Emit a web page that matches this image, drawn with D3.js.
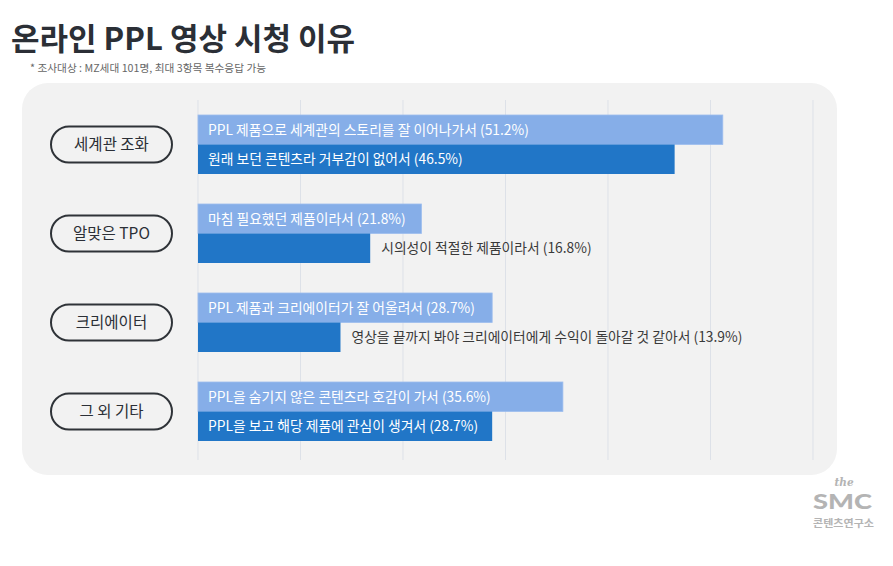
<!DOCTYPE html>
<html><head><meta charset="utf-8">
<script src="https://cdn.jsdelivr.net/npm/d3@7"></script>
<style>
html,body{margin:0;padding:0;background:#fff;}
svg{display:block;font-family:"Noto Sans CJK KR","Noto Sans",sans-serif;}
</style></head>
<body>
<svg id="c" width="893" height="566"></svg>
<script>
const categories = ["세계관 조화", "알맞은 TPO", "크리에이터", "그 외 기타"];
const firstLabels = [
  "PPL 제품으로 세계관의 스토리를 잘 이어나가서",
  "마침 필요했던 제품이라서",
  "PPL 제품과 크리에이터가 잘 어울려서",
  "PPL을 숨기지 않은 콘텐츠라 호감이 가서"
];
const firstValues = [51.2, 21.8, 28.7, 35.6];
const secondLabels = [
  "원래  보던 콘텐츠라 거부감이 없어서",
  "시의성이 적절한 제품이라서",
  "영상을 끝까지 봐야 크리에이터에게 수익이 돌아갈 것 같아서",
  "PPL을 보고 해당 제품에 관심이 생겨서"
];
const secondValues = [46.5, 16.8, 13.9, 28.7];
const gridTicks = [0, 10, 20, 30, 40, 50, 60];

const svg = d3.select("#c");
const lightColor = "#86aee8", darkColor = "#2176c7";

// title
svg.append("text").attr("x", 11).attr("y", 50)
  .attr("font-size", 31).attr("font-weight", 700).attr("fill", "#2b2f36")
  .text("온라인 PPL 영상 시청 이유");
svg.append("text").attr("x", 30).attr("y", 72)
  .attr("font-size", 10.7).attr("fill", "#666")
  .text("* 조사대상 : MZ세대 101명, 최대 3항목 복수응답 가능");

// panel
svg.append("rect").attr("x", 22).attr("y", 83).attr("width", 815).attr("height", 392)
  .attr("rx", 26).attr("fill", "#f2f2f2");

const x = d3.scaleLinear().domain([0, 60]).range([198, 813]);
const y = d3.scaleBand().domain(categories).range([100, 456]).paddingInner(0).paddingOuter(0);
const barH = 29.5;

// grid
svg.append("g").selectAll("line").data(gridTicks).join("line")
  .attr("x1", d => x(d)).attr("x2", d => x(d))
  .attr("y1", 100).attr("y2", 460)
  .attr("stroke", "#dde1e8").attr("stroke-width", 1);

const groups = svg.append("g").selectAll("g").data(categories).join("g")
  .attr("transform", d => `translate(0,${y(d) + y.bandwidth()/2})`);

// pills
groups.append("rect").attr("x", 51).attr("y", -18).attr("width", 121).attr("height", 36)
  .attr("rx", 18).attr("fill", "none").attr("stroke", "#2f3338").attr("stroke-width", 2);
groups.append("text").attr("x", 111.5).attr("y", 5.5).attr("text-anchor", "middle")
  .attr("font-size", 15.5).attr("fill", "#2b2f36").text(d => d);

// bars
groups.append("rect").attr("x", x(0)).attr("y", -barH)
  .attr("width", (d, i) => x(firstValues[i]) - x(0)).attr("height", barH)
  .attr("fill", lightColor).attr("stroke", "#9dbdee").attr("stroke-width", 0.8);
groups.append("rect").attr("x", x(0)).attr("y", 0)
  .attr("width", (d, i) => x(secondValues[i]) - x(0)).attr("height", barH)
  .attr("fill", darkColor);

const fs = 13.8;
groups.append("text").attr("x", x(0) + 10).attr("y", -barH/2 + 5)
  .attr("font-size", fs).attr("fill", "#fff")
  .text((d, i) => `${firstLabels[i]} (${firstValues[i]}%)`);

// second labels: inside if bar wide enough, otherwise outside
groups.each(function(d, i) {
  const g = d3.select(this);
  const t = g.append("text").attr("y", barH/2 + 5).attr("font-size", fs)
    .text(`${secondLabels[i]} (${secondValues[i]}%)`);
  const w = t.node().getComputedTextLength();
  const bw = x(secondValues[i]) - x(0);
  if (w + 20 < bw) t.attr("x", x(0) + 10).attr("fill", "#fff");
  else t.attr("x", x(secondValues[i]) + 11).attr("fill", "#3a3a3a");
});

// logo
const logo = svg.append("g").attr("fill", "#b4b4b4");
logo.append("text").attr("x", 844).attr("y", 485.5).attr("text-anchor", "middle")
  .attr("font-family", "DejaVu Serif").attr("font-style", "italic").attr("font-weight", 700)
  .attr("font-size", 10.5).text("the");
logo.append("text").attr("x", 813).attr("y", 509)
  .attr("font-family", "Lato, sans-serif").attr("font-weight", 900)
  .attr("font-size", 20).attr("textLength", 59).attr("lengthAdjust", "spacingAndGlyphs").text("SMC");
logo.append("text").attr("x", 813).attr("y", 527)
  .attr("font-size", 10.5).attr("font-weight", 700)
  .attr("textLength", 61).attr("lengthAdjust", "spacingAndGlyphs").text("콘텐츠연구소");
</script>
</body></html>
